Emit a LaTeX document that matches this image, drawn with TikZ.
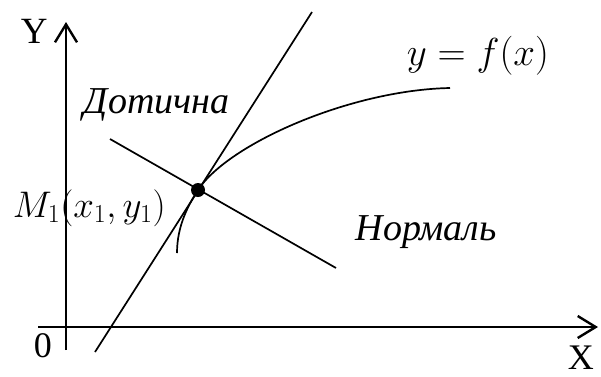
\documentclass[tikz,border=0pt]{standalone}
\usepackage{fix-cm}
\usepackage{fontspec}
\setmainfont{Liberation Serif}
\usetikzlibrary{arrows.meta}

\begin{document}
\begin{tikzpicture}[x=1pt, y=-1pt, line width=1.7pt]
    \useasboundingbox (0,0) rectangle (601,376);
    \coordinate (Xa) at (38,327);
    \coordinate (Xb) at (598,327);
    \coordinate (Ya) at (66,350);
    \coordinate (Yb) at (66,22);
    \coordinate (M) at (198,190);
    \coordinate (T1) at (95,352);
    \coordinate (T2) at (312,12);
    \coordinate (N1) at (110,139);
    \coordinate (N2) at (336,268);
    \coordinate (P) at (177,253);
    \coordinate (Q) at (450,88);
    \draw[line width=2.4pt, -{Straight Barb[length=18pt, width=22pt]}] (Xa) -- (Xb);
    \draw[line width=2.4pt, -{Straight Barb[length=18pt, width=22pt]}] (Ya) -- (Yb);
    \draw (T1) -- (T2);
    \draw (N1) -- (N2);
    \draw (P) .. controls (177,225) and (189,204) .. (M) .. controls (228,144) and (350,90) .. (Q);
    \fill (M) circle (7);
    \node[anchor=base west, inner sep=0, font=\fontsize{37}{42}\selectfont] (labY) at (20,43) {Y};
    \node[anchor=base west, inner sep=0, font=\fontsize{36}{42}\selectfont] (labO) at (33,357) {0};
    \node[anchor=base west, inner sep=0, font=\fontsize{36}{42}\selectfont] (labX) at (567,369) {X};
    \node[anchor=base west, inner sep=0, font=\fontsize{38}{44}\selectfont\itshape] (labT) at (83,113) {Дотична};
    \node[anchor=base west, inner sep=0, font=\fontsize{38}{44}\selectfont\itshape] (labN) at (355,240) {Нормаль};
    \node[anchor=base west, inner sep=0, font=\fontsize{39}{44}\selectfont] (labF) at (406,65) {$y=f(x)$};
    \node[anchor=base west, inner sep=0, font=\fontsize{37}{42}\selectfont] (labM) at (12,217) {$M_1(x_1,y_1)$};
\end{tikzpicture}
\end{document}
